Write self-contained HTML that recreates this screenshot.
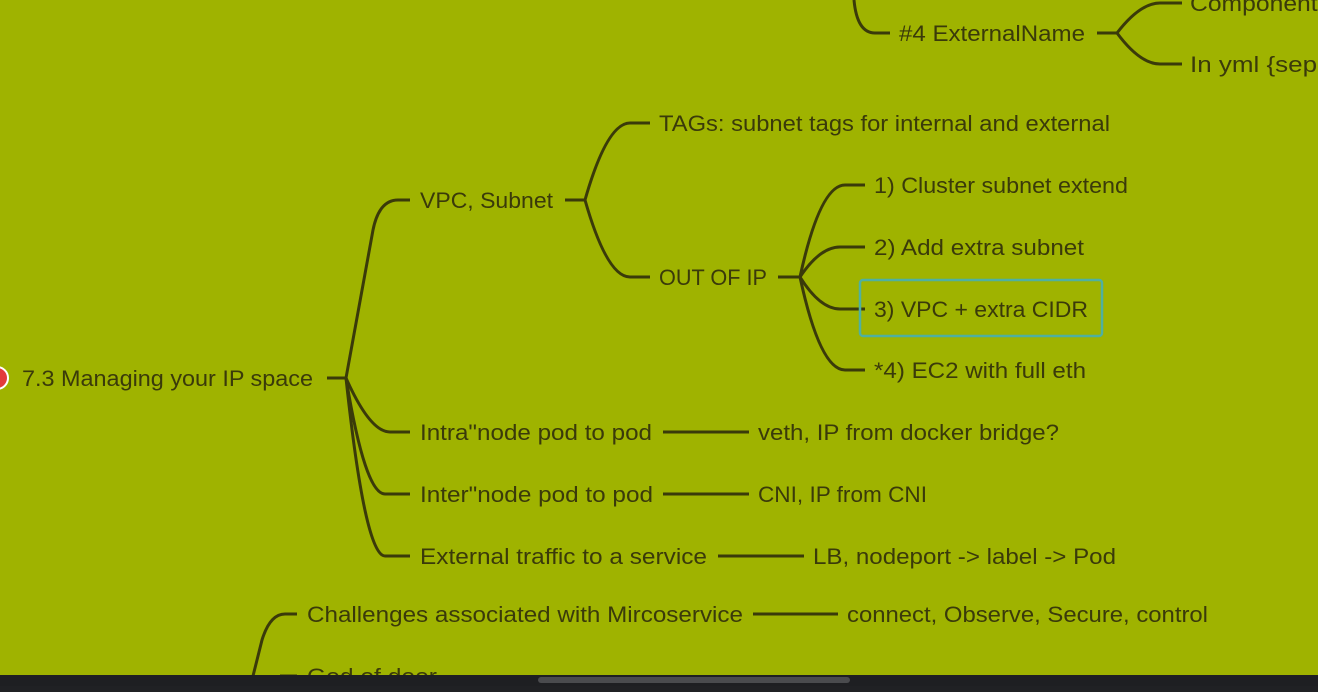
<!DOCTYPE html>
<html><head><meta charset="utf-8"><style>
html,body{margin:0;padding:0;width:1318px;height:692px;overflow:hidden;background:#9fb300;}
svg{display:block}
text{font-family:"Liberation Sans",sans-serif;font-size:22px;fill:#3a3a0a;}
</style></head><body>
<svg width="1318" height="692" viewBox="0 0 1318 692" xmlns="http://www.w3.org/2000/svg">
<rect width="1318" height="692" fill="#9fb300"/>
<g fill="none" stroke="#3a3a0a" stroke-width="3" stroke-linecap="butt">
<path d="M854 0 Q857 33 875 33 L890 33"/>
<path d="M1097 33 L1117 33 Q1140 3 1160 3 L1182 3"/>
<path d="M1117 33 Q1140 64 1160 64 L1182 64"/>
<path d="M327 378 L346 378"/>
<path d="M346 378 L373 230 Q379 200 398 200 L410 200"/>
<path d="M346 378 Q370 432 390 432 L410 432"/>
<path d="M346 378 Q365 494 385 494 L410 494"/>
<path d="M346 378 Q365 556 385 556 L410 556"/>
<path d="M565 200 L585 200 Q607 123 630 123 L650 123"/>
<path d="M585 200 Q607 277 630 277 L650 277"/>
<path d="M778 277 L800 277 Q820 185 845 185 L865 185"/>
<path d="M800 277 Q820 247 840 247 L865 247"/>
<path d="M800 277 Q820 309 840 309 L865 309"/>
<path d="M800 277 Q820 370 845 370 L865 370"/>
<path d="M663 432 L749 432"/>
<path d="M663 494 L749 494"/>
<path d="M718 556 L804 556"/>
<path d="M753 614 L838 614"/>
<path d="M249 692 L262 640 Q270 614 285 614 L297 614"/>
<path d="M280 676 L297 676"/>
</g>
<circle cx="-3" cy="378" r="11" fill="#e23b3b" stroke="#fff" stroke-width="2"/>
<rect x="860" y="280" width="242" height="56" rx="3" fill="none" stroke="#4fb0a0" stroke-width="2.5"/>
<g lengthAdjust="spacingAndGlyphs">
<text x="22" y="386" textLength="291" lengthAdjust="spacingAndGlyphs">7.3 Managing your IP space</text>
<text x="899" y="41" textLength="186" lengthAdjust="spacingAndGlyphs">#4 ExternalName</text>
<text x="1190" y="11" textLength="140" lengthAdjust="spacingAndGlyphs">Components</text>
<text x="1190" y="72" textLength="140" lengthAdjust="spacingAndGlyphs">In yml {sepc</text>
<text x="420" y="208" textLength="133" lengthAdjust="spacingAndGlyphs">VPC, Subnet</text>
<text x="659" y="131" textLength="451" lengthAdjust="spacingAndGlyphs">TAGs: subnet tags for internal and external</text>
<text x="659" y="285" textLength="108" lengthAdjust="spacingAndGlyphs">OUT OF IP</text>
<text x="874" y="193" textLength="254" lengthAdjust="spacingAndGlyphs">1) Cluster subnet extend</text>
<text x="874" y="255" textLength="210" lengthAdjust="spacingAndGlyphs">2) Add extra subnet</text>
<text x="874" y="317" textLength="214" lengthAdjust="spacingAndGlyphs">3) VPC + extra CIDR</text>
<text x="874" y="378" textLength="212" lengthAdjust="spacingAndGlyphs">*4) EC2 with full eth</text>
<text x="420" y="440" textLength="232" lengthAdjust="spacingAndGlyphs">Intra"node pod to pod</text>
<text x="758" y="440" textLength="301" lengthAdjust="spacingAndGlyphs">veth, IP from docker bridge?</text>
<text x="420" y="502" textLength="233" lengthAdjust="spacingAndGlyphs">Inter"node pod to pod</text>
<text x="758" y="502" textLength="169" lengthAdjust="spacingAndGlyphs">CNI, IP from CNI</text>
<text x="420" y="564" textLength="287" lengthAdjust="spacingAndGlyphs">External traffic to a service</text>
<text x="813" y="564" textLength="303" lengthAdjust="spacingAndGlyphs">LB, nodeport -&gt; label -&gt; Pod</text>
<text x="307" y="622" textLength="436" lengthAdjust="spacingAndGlyphs">Challenges associated  with Mircoservice</text>
<text x="847" y="622" textLength="361" lengthAdjust="spacingAndGlyphs">connect, Observe, Secure, control</text>
<text x="307" y="684" textLength="130" lengthAdjust="spacingAndGlyphs">God of door</text>
</g>
<rect x="0" y="675" width="1318" height="17" fill="#1e1f22"/>
<rect x="0" y="686" width="1318" height="6" fill="#202124"/>
<rect x="538" y="677" width="312" height="6" rx="3" fill="#4a4b4e"/>
</svg>
</body></html>
